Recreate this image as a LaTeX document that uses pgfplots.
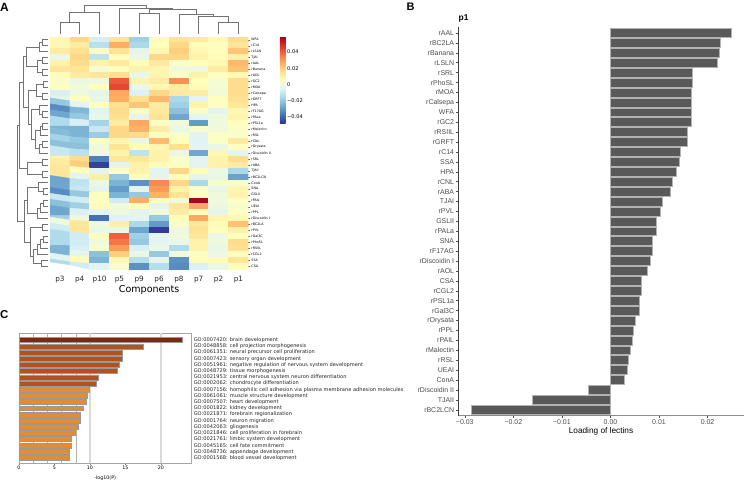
\documentclass[border=0pt]{standalone}
\usepackage{pgfplots}
\pgfplotsset{compat=1.18}
\usepackage{fontspec}
\setmainfont{Liberation Sans}
\newfontfamily\dvs{DejaVu Sans}
\newcommand{\fs}[1]{\fontsize{#1}{#1}\selectfont}
\definecolor{barB}{HTML}{595959}
\definecolor{cA}{RGB}{125,40,15}
\definecolor{cB}{RGB}{178,82,30}
\definecolor{cC}{RGB}{226,140,52}
\pgfplotsset{
  dendro/.style={hide axis, scale only axis, clip=false, anchor=north west, enlargelimits=false},
  dl/.style={draw=black!55, line width=0.7bp, mark=none, forget plot},
}
\begin{document}
\begin{tikzpicture}
\path[use as bounding box] (0,0) rectangle (744bp,-480bp);
\node[anchor=base west, inner sep=0, font=\fs{12}\bfseries] at (0bp,-11.7bp) {A};
\node[anchor=base west, inner sep=0, font=\fs{11}\bfseries] at (406.5bp,-10.7bp) {B};
\node[anchor=base west, inner sep=0, font=\fs{11.5}\bfseries] at (0bp,-318.3bp) {C};
\node[anchor=base west, inner sep=0, font=\fs{8.5}\bfseries] at (458.5bp,-20.7bp) {p1};

% ---------------- Panel A heatmap ----------------
\begin{axis}[
  at={(50bp,-36.7bp)}, anchor=north west, scale only axis,
  width=198.3bp, height=232.6bp,
  xmin=-0.5, xmax=9.5, ymin=0.5, ymax=39.5, y dir=reverse,
  enlargelimits=false,
  axis line style={draw=none},
  xtick={0,...,9}, xticklabels={p3,p4,p10,p5,p9,p6,p8,p7,p2,p1},
  xticklabel style={font=\dvs\fs{7.3}, text=black!85, yshift=-1bp},
  xtick style={draw=none},
  ytick={1,...,39},
  yticklabels={WFA,rC14,rLSLN,TJAI,rAAL,rBanana,rAOL,rGC2,rMOA,rCalsepa,rGRFT,HPA,rF17AG,rPALa,rPSL1a,rMalectin,rRSL,rCNL,rOrysata,rDiscoidin II,rSRL,rABA,TJAII,rBC2LCN,ConA,SNA,GSLII,rPAIL,UEAI,rPPL,rDiscoidin I,rBC2LA,rPVL,rGal3C,rPhoSL,rRSIIL,rCGL2,SSA,CSA},
  ytick pos=right, yticklabel pos=right,
  yticklabel style={font=\dvs\fs{3.3}, inner sep=1bp},
  ytick style={draw=black!60, line width=0.3bp},
  tick align=outside, major tick length=2bp,
  xlabel={Components},
  xlabel style={font=\dvs\fs{9.6}, at={(axis description cs:0.5,0)}, anchor=center, yshift=-20.5bp},
  colormap={rdylbu}{rgb255=(49,54,149) rgb255=(69,117,180) rgb255=(116,173,209) rgb255=(171,217,233) rgb255=(224,243,248) rgb255=(255,255,191) rgb255=(254,224,144) rgb255=(253,174,97) rgb255=(244,109,67) rgb255=(215,48,39) rgb255=(165,0,38)},
  point meta min=-0.048, point meta max=0.059,
  colorbar,
  colorbar style={
    at={(parent axis.north east)}, anchor=north west, xshift=23bp,
    scale only axis, width=5.7bp, height=86.3bp,
    scaled ticks=false, scaled y ticks=false,
    ytick={-0.04,-0.02,0,0.02,0.04},
    yticklabels={−0.04,−0.02,0,0.02,0.04},
    yticklabel style={font=\dvs\fs{5.1}, inner sep=1.5bp},
    major tick length=0pt, axis line style={draw=none},
  },
]
\addplot[matrix plot*, shader=flat corner, mesh/cols=10, point meta=explicit]
  table[row sep=\\, x expr={mod(\coordindex,10)}, y expr={floor(\coordindex/10)+1}, meta=c] {
c\\
0.008\\ 0.018\\ -0.007\\ 0.015\\ -0.018\\ 0.007\\ 0.015\\ 0.013\\ 0.008\\ 0.0166\\
0.008\\ 0.012\\ -0.013\\ 0.027\\ -0.016\\ 0.006\\ 0.018\\ 0.007\\ 0.005\\ 0.0144\\
0.012\\ 0.016\\ 0.003\\ 0.016\\ -0.003\\ 0.008\\ 0.020\\ 0.008\\ 0.006\\ 0.0219\\
-0.002\\ 0.018\\ -0.012\\ 0.006\\ -0.002\\ 0.018\\ 0.018\\ 0.010\\ 0.007\\ 0.0106\\
0.010\\ 0.017\\ 0.010\\ 0.013\\ 0.007\\ 0.013\\ 0.004\\ 0.006\\ 0.008\\ 0.0248\\
0.014\\ 0.015\\ 0.002\\ 0.006\\ 0.010\\ 0.009\\ 0.000\\ -0.001\\ 0.012\\ 0.0223\\
0.007\\ 0.012\\ 0.014\\ 0.016\\ -0.002\\ 0.009\\ 0.004\\ 0.010\\ 0.006\\ 0.0075\\
0.003\\ -0.001\\ -0.001\\ 0.041\\ 0.010\\ 0.012\\ 0.032\\ 0.006\\ 0.002\\ 0.0166\\
0.006\\ 0.000\\ 0.006\\ 0.044\\ -0.002\\ 0.008\\ 0.012\\ 0.007\\ 0.002\\ 0.0167\\
-0.007\\ 0.000\\ -0.003\\ 0.028\\ -0.006\\ 0.018\\ 0.013\\ 0.012\\ 0.001\\ 0.0167\\
-0.003\\ 0.006\\ -0.002\\ 0.027\\ 0.016\\ 0.025\\ -0.016\\ -0.003\\ 0.006\\ 0.0159\\
-0.020\\ -0.004\\ 0.006\\ 0.016\\ 0.022\\ 0.012\\ -0.018\\ 0.010\\ 0.005\\ 0.0136\\
-0.033\\ -0.024\\ -0.005\\ 0.017\\ 0.004\\ 0.013\\ -0.022\\ 0.004\\ -0.003\\ 0.0086\\
-0.028\\ -0.020\\ -0.002\\ 0.016\\ -0.004\\ 0.015\\ -0.028\\ -0.004\\ 0.000\\ 0.0094\\
-0.015\\ -0.007\\ -0.017\\ 0.012\\ 0.028\\ 0.004\\ 0.000\\ -0.030\\ 0.000\\ 0.0060\\
-0.025\\ -0.025\\ -0.010\\ 0.018\\ 0.026\\ 0.012\\ -0.002\\ 0.003\\ 0.000\\ 0.0041\\
-0.023\\ -0.025\\ -0.019\\ 0.018\\ 0.017\\ 0.005\\ 0.004\\ -0.004\\ 0.004\\ 0.0037\\
-0.017\\ -0.020\\ 0.006\\ 0.009\\ -0.002\\ 0.024\\ 0.006\\ -0.005\\ 0.005\\ 0.0128\\
-0.022\\ -0.022\\ 0.000\\ 0.015\\ 0.007\\ 0.009\\ 0.016\\ -0.004\\ -0.002\\ 0.0052\\
-0.010\\ -0.013\\ 0.000\\ 0.010\\ -0.012\\ 0.010\\ -0.002\\ -0.028\\ 0.008\\ -0.0046\\
0.010\\ 0.017\\ -0.035\\ 0.014\\ 0.014\\ 0.010\\ 0.004\\ -0.003\\ 0.010\\ 0.0168\\
0.012\\ 0.020\\ -0.046\\ -0.004\\ 0.010\\ 0.007\\ 0.004\\ -0.004\\ 0.010\\ 0.0123\\
0.014\\ 0.006\\ -0.003\\ 0.006\\ 0.010\\ -0.004\\ 0.018\\ 0.007\\ -0.001\\ -0.0161\\
0.014\\ -0.003\\ 0.011\\ -0.020\\ 0.006\\ -0.003\\ 0.006\\ -0.003\\ -0.002\\ -0.0287\\
-0.028\\ -0.012\\ -0.002\\ -0.025\\ -0.032\\ 0.033\\ 0.018\\ -0.016\\ 0.003\\ 0.0029\\
-0.028\\ -0.010\\ -0.003\\ -0.030\\ -0.003\\ 0.030\\ 0.010\\ 0.005\\ -0.002\\ 0.0087\\
-0.033\\ -0.020\\ 0.006\\ -0.025\\ -0.020\\ 0.026\\ 0.015\\ 0.005\\ 0.000\\ 0.0094\\
-0.010\\ -0.008\\ 0.005\\ -0.008\\ 0.027\\ 0.006\\ 0.000\\ 0.058\\ 0.000\\ 0.0044\\
-0.022\\ -0.018\\ 0.007\\ 0.000\\ 0.006\\ -0.003\\ 0.014\\ 0.028\\ -0.001\\ 0.0034\\
-0.028\\ -0.006\\ -0.004\\ 0.000\\ -0.003\\ 0.000\\ 0.012\\ 0.007\\ -0.003\\ 0.0046\\
-0.018\\ 0.000\\ -0.038\\ -0.005\\ -0.004\\ -0.020\\ 0.007\\ 0.028\\ 0.009\\ 0.0081\\
0.000\\ 0.014\\ 0.000\\ 0.011\\ -0.016\\ -0.030\\ 0.004\\ 0.014\\ 0.007\\ 0.0227\\
-0.008\\ 0.014\\ -0.002\\ -0.002\\ -0.028\\ -0.047\\ -0.001\\ 0.016\\ 0.006\\ 0.0103\\
-0.015\\ -0.008\\ 0.006\\ 0.040\\ -0.018\\ -0.003\\ 0.000\\ 0.014\\ -0.001\\ 0.0059\\
-0.015\\ -0.008\\ 0.000\\ 0.036\\ -0.020\\ -0.004\\ -0.002\\ 0.010\\ 0.000\\ 0.0168\\
-0.025\\ -0.007\\ 0.003\\ 0.030\\ -0.007\\ -0.002\\ -0.015\\ 0.010\\ -0.002\\ 0.0159\\
-0.025\\ -0.003\\ -0.022\\ 0.020\\ -0.002\\ -0.020\\ 0.000\\ 0.004\\ -0.001\\ 0.0063\\
-0.004\\ 0.007\\ -0.025\\ 0.008\\ -0.014\\ -0.003\\ -0.032\\ 0.006\\ 0.007\\ 0.0141\\
-0.015\\ -0.008\\ -0.005\\ 0.003\\ -0.032\\ -0.014\\ -0.033\\ -0.006\\ -0.002\\ 0.0063\\
};
\end{axis}

% ---------------- top dendrogram ----------------
\begin{axis}[dendro, at={(50bp,0bp)}, width=198.3bp, height=33.5bp,
  xmin=-0.5, xmax=9.5, ymin=0, ymax=33.5]
\addplot[dl] coordinates {(0,0) (0,10.8) (1,10.8) (1,0)};
\addplot[dl] coordinates {(0.5,10.8) (0.5,21.2) (2,21.2) (2,0)};
\addplot[dl] coordinates {(4,0) (4,20.2) (5,20.2) (5,0)};
\addplot[dl] coordinates {(8,0) (8,10.8) (9,10.8) (9,0)};
\addplot[dl] coordinates {(7,0) (7,17.5) (8.5,17.5) (8.5,10.8)};
\addplot[dl] coordinates {(6,0) (6,19.5) (7.75,19.5) (7.75,17.5)};
\addplot[dl] coordinates {(4.5,20.2) (4.5,24.2) (6.875,24.2) (6.875,19.5)};
\addplot[dl] coordinates {(3,0) (3,25) (5.6875,25) (5.6875,24.2)};
\addplot[dl] coordinates {(1.25,21.2) (1.25,28.5) (4.34375,28.5) (4.34375,25)};
\end{axis}

% ---------------- left dendrogram ----------------
\begin{axis}[dendro, at={(10bp,-36.7bp)}, width=38bp, height=232.6bp,
  xmin=10, xmax=48, ymin=0.5, ymax=39.5, y dir=reverse]
\addplot[dl] coordinates {(48,1) (42,1) (42,2) (48,2)};
\addplot[dl] coordinates {(42,1.5) (39,1.5) (39,3) (48,3)};
\addplot[dl] coordinates {(48,4) (42,4) (42,5) (48,5)};
\addplot[dl] coordinates {(48,6) (42,6) (42,7) (48,7)};
\addplot[dl] coordinates {(42,4.5) (37,4.5) (37,6.5) (42,6.5)};
\addplot[dl] coordinates {(39,2.25) (26,2.25) (26,5.5) (37,5.5)};
\addplot[dl] coordinates {(48,8) (43,8) (43,9) (48,9)};
\addplot[dl] coordinates {(48,10) (42,10) (42,11) (48,11)};
\addplot[dl] coordinates {(43,8.5) (36,8.5) (36,10.5) (42,10.5)};
\addplot[dl] coordinates {(48,13) (42,13) (42,14) (48,14)};
\addplot[dl] coordinates {(48,12) (39,12) (39,13.5) (42,13.5)};
\addplot[dl] coordinates {(48,15) (42,15) (42,16) (48,16)};
\addplot[dl] coordinates {(42,15.5) (40,15.5) (40,17) (48,17)};
\addplot[dl] coordinates {(48,18) (42,18) (42,19) (48,19)};
\addplot[dl] coordinates {(42,18.5) (39,18.5) (39,20) (48,20)};
\addplot[dl] coordinates {(40,16.25) (35,16.25) (35,19.25) (39,19.25)};
\addplot[dl] coordinates {(39,12.75) (31,12.75) (31,17.75) (35,17.75)};
\addplot[dl] coordinates {(36,9.5) (28,9.5) (28,15.25) (31,15.25)};
\addplot[dl] coordinates {(26,3.875) (23,3.875) (23,12.375) (28,12.375)};
\addplot[dl] coordinates {(48,21) (42,21) (42,22) (48,22)};
\addplot[dl] coordinates {(48,23) (42,23) (42,24) (48,24)};
\addplot[dl] coordinates {(42,21.5) (27,21.5) (27,23.5) (42,23.5)};
\addplot[dl] coordinates {(23,8.125) (19,8.125) (19,22.5) (27,22.5)};
\addplot[dl] coordinates {(48,26) (43,26) (43,27) (48,27)};
\addplot[dl] coordinates {(48,25) (38,25) (38,26.5) (43,26.5)};
\addplot[dl] coordinates {(48,28) (43,28) (43,29) (48,29)};
\addplot[dl] coordinates {(43,28.5) (40,28.5) (40,30) (48,30)};
\addplot[dl] coordinates {(40,29.25) (37,29.25) (37,31) (48,31)};
\addplot[dl] coordinates {(38,25.75) (27,25.75) (27,30.125) (37,30.125)};
\addplot[dl] coordinates {(48,32) (42,32) (42,33) (48,33)};
\addplot[dl] coordinates {(48,34) (43,34) (43,35) (48,35)};
\addplot[dl] coordinates {(43,34.5) (40,34.5) (40,36) (48,36)};
\addplot[dl] coordinates {(40,35.25) (37,35.25) (37,37) (48,37)};
\addplot[dl] coordinates {(48,38) (41,38) (41,39) (48,39)};
\addplot[dl] coordinates {(37,36.125) (33,36.125) (33,38.5) (41,38.5)};
\addplot[dl] coordinates {(42,32.5) (30,32.5) (30,37.3125) (33,37.3125)};
\addplot[dl] coordinates {(27,27.9375) (24,27.9375) (24,34.90625) (30,34.90625)};
\addplot[dl] coordinates {(19,15.3125) (17,15.3125) (17,31.421875) (24,31.421875)};
\end{axis}

% ---------------- Panel B ----------------
\begin{axis}[
  at={(458bp,-27bp)}, anchor=north west, scale only axis,
  width=286bp, height=388.7bp,
  xmin=-0.0314, xmax=0.0275, ymin=0.4, ymax=39.6, y dir=reverse,
  enlargelimits=false, clip=false,
  scaled ticks=false, scaled x ticks=false,
  axis x line*=bottom, axis y line*=left,
  x axis line style={draw=black!45, line width=1.1bp},
  y axis line style={draw=black!75, line width=0.6bp},
  xtick={-0.03,-0.02,-0.01,0,0.01,0.02},
  xticklabels={−0.03,−0.02,−0.01,0.00,0.01,0.02},
  ytick={1,...,39},
  yticklabels={rAAL,rBC2LA,rBanana,rLSLN,rSRL,rPhoSL,rMOA,rCalsepa,WFA,rGC2,rRSIIL,rGRFT,rC14,SSA,HPA,rCNL,rABA,TJAI,rPVL,GSLII,rPALa,SNA,rF17AG,rDiscoidin I,rAOL,CSA,rCGL2,rPSL1a,rGal3C,rOrysata,rPPL,rPAIL,rMalectin,rRSL,UEAI,ConA,rDiscoidin II,TJAII,rBC2LCN},
  tick align=outside, major tick length=2.5bp,
  tick style={draw=black!70, line width=0.5bp},
  ticklabel style={font=\fs{7}, text=black!70, inner sep=1.2bp},
  xlabel={Loading of lectins},
  xlabel style={font=\fs{8.3}, at={(axis description cs:0.5,0)}, anchor=center, yshift=-16bp},
]
\addplot[xbar, bar width=0.9, bar shift=0pt, fill=barB, draw=black!30, line width=0.5bp] coordinates {
(0.0248,1) (0.0227,2) (0.0223,3) (0.0219,4) (0.0168,5) (0.0168,6) (0.0167,7) (0.0167,8)
(0.0166,9) (0.0166,10) (0.0159,11) (0.0159,12) (0.0144,13) (0.0141,14) (0.0136,15) (0.0128,16)
(0.0123,17) (0.0106,18) (0.0103,19) (0.0094,20) (0.0094,21) (0.0087,22) (0.0086,23) (0.0081,24)
(0.0075,25) (0.0063,26) (0.0063,27) (0.0060,28) (0.0059,29) (0.0052,30) (0.0046,31) (0.0044,32)
(0.0041,33) (0.0037,34) (0.0034,35) (0.0029,36) (-0.0046,37) (-0.0161,38) (-0.0287,39)
};
\end{axis}

% ---------------- Panel C ----------------
\begin{axis}[
  at={(19bp,-333.3bp)}, anchor=north west, scale only axis,
  width=172.3bp, height=129.7bp,
  xmin=0, xmax=24.3, ymin=-0.1, ymax=20.84, y dir=reverse,
  enlargelimits=false, clip=false,
  axis line style={draw=black!35, line width=0.8bp},
  xtick={0,5,10,15,20}, xticklabels={0,5,10,15,20},
  xtick pos=bottom, tick align=outside, major tick length=1.5bp,
  xtick style={draw=black!50, line width=0.4bp},
  xticklabel style={font=\dvs\fs{4.8}, inner sep=1bp},
  ytick={1,...,20},
  yticklabels={GO:0007420: brain development,GO:0048858: cell projection morphogenesis,GO:0061351: neural precursor cell proliferation,GO:0007423: sensory organ development,GO:0051961: negative regulation of nervous system development,GO:0048729: tissue morphogenesis,GO:0021953: central nervous system neuron differentiation,GO:0002062: chondrocyte differentiation,GO:0007156: homophilic cell adhesion via plasma membrane adhesion molecules,GO:0061061: muscle structure development,GO:0007507: heart development,GO:0001822: kidney development,GO:0021871: forebrain regionalization,GO:0001764: neuron migration,GO:0042063: gliogenesis,GO:0021846: cell proliferation in forebrain,GO:0021761: limbic system development,GO:0045165: cell fate commitment,GO:0048736: appendage development,GO:0001568: blood vessel development},
  ytick pos=right, yticklabel pos=right,
  ytick style={draw=none},
  yticklabel style={font=\dvs\fs{5.1}, text=black!85, inner sep=0.8bp},
  xlabel={-log10(P)},
  xlabel style={font=\dvs\fs{4.8}, at={(axis description cs:0.5,0)}, anchor=center, yshift=-15bp},
]
\addplot[draw=black!15, line width=1.6bp, mark=none, forget plot] coordinates {(10,-0.1) (10,20.84)};
\addplot[draw=black!15, line width=1.6bp, mark=none, forget plot] coordinates {(20,-0.1) (20,20.84)};
\addplot[draw=black!30, line width=0.4bp, mark=none, forget plot] coordinates {(2,-0.1) (2,20.84)};
\addplot[draw=black!30, line width=0.4bp, mark=none, forget plot] coordinates {(4,-0.1) (4,20.84)};
\addplot[draw=black!30, line width=0.4bp, mark=none, forget plot] coordinates {(6,-0.1) (6,20.84)};
\addplot[draw=black!30, line width=0.4bp, mark=none, forget plot] coordinates {(8,-0.1) (8,20.84)};
\addplot[xbar, bar width=0.8, bar shift=0pt, fill=cA, draw=black!40, line width=0.5bp] coordinates {(23.0,1)};
\addplot[xbar, bar width=0.8, bar shift=0pt, fill=cB, draw=black!40, line width=0.5bp] coordinates {
(17.5,2) (14.6,3) (14.5,4) (14.1,5) (13.8,6) (11.2,7) (10.95,8)};
\addplot[xbar, bar width=0.8, bar shift=0pt, fill=cC, draw=black!40, line width=0.5bp] coordinates {
(9.97,9) (9.6,10) (9.5,11) (9.0,12) (8.7,13) (8.65,14) (8.3,15) (8.0,16) (7.4,17) (7.3,18) (7.15,19) (7.1,20)};
\end{axis}
\end{tikzpicture}
\end{document}
